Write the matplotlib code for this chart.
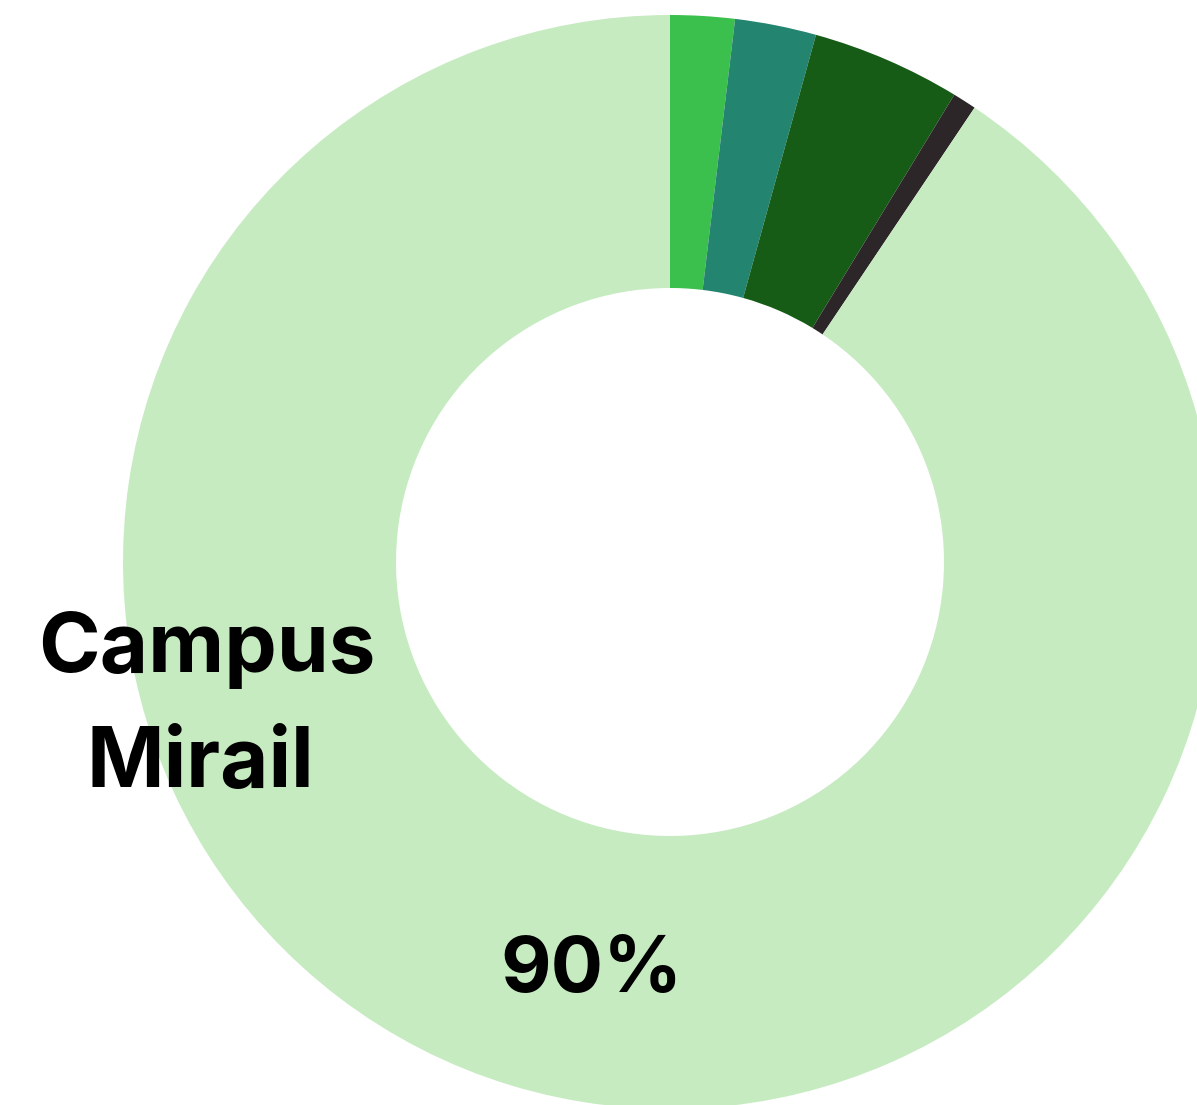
import matplotlib
matplotlib.use("Agg")
import matplotlib.pyplot as plt

categories = ["Cat A", "Cat B", "Cat C", "Cat D", "Campus Mirail"]
shares = [1.9, 2.4, 4.4, 0.7, 90.6]
colors = ["#3bbf4d", "#238470", "#165c17", "#2d2628", "#c6ebc1"]
big_label_lines = ["Campus", "Mirail"]
big_pct = "90%"

W, H = 1197, 1105
fig = plt.figure(figsize=(W / 100, H / 100), dpi=100)
ax = fig.add_axes([0, 0, 1, 1])

cx, cy = 670, H - 562
R_out, R_in = 547, 274
ax.pie(shares, colors=colors, startangle=90, counterclock=False,
       center=(cx, cy), radius=R_out, frame=True,
       wedgeprops=dict(width=R_out - R_in, linewidth=0))
ax.set_xlim(0, W)
ax.set_ylim(0, H)
ax.set_aspect("auto")
ax.axis("off")

font = dict(family=["Inter", "DejaVu Sans"], fontweight="bold", color="black")
ax.text(207, H - 672, big_label_lines[0], ha="center", va="baseline", fontsize=60, **font)
ax.text(200, H - 787, big_label_lines[1], ha="center", va="baseline", fontsize=60, **font)
ax.text(591, H - 992, big_pct, ha="center", va="baseline", fontsize=56, **font)

fig.savefig("out.png", dpi=100)
